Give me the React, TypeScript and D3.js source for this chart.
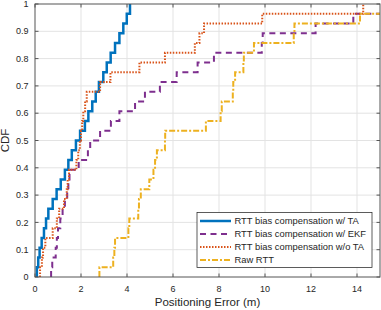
import React, { useEffect, useRef } from 'react';
import * as d3 from 'd3';

const seriesNames = [
  'RTT bias compensation w/ TA',
  'RTT bias compensation w/ EKF',
  'RTT bias compensation w/o TA',
  'Raw RTT',
];

// positioning error samples (m) for each method
const errWithTA = [0.08, 0.14, 0.2, 0.29, 0.39, 0.48, 0.58, 0.77, 0.94, 1.12, 1.3, 1.45, 1.6, 1.78,
  1.96, 2.17, 2.32, 2.49, 2.64, 2.78, 2.97, 3.12, 3.29, 3.48, 3.67, 3.84, 3.99, 4.13];
const errEKF = [0.7, 0.75, 0.9, 0.95, 1.0, 1.1, 1.2, 1.3, 1.4, 1.45, 1.5, 1.9, 2.3, 2.4,
  2.83, 3.3, 3.67, 4.35, 4.78, 5.43, 6.16, 7.07, 7.78, 9.86, 9.9, 12.2, 13.84, 16];
const errWithoutTA = [0.22, 0.3, 0.35, 0.45, 0.77, 0.95, 1.05, 1.26, 1.38, 1.42, 1.48, 1.8, 1.88, 1.95,
  2.0, 2.05, 2.1, 2.18, 2.25, 2.83, 3.28, 4.54, 5.65, 6.95, 7.15, 7.35, 9.88, 14.27];
const errRaw = [2.8, 3.4, 3.45, 3.48, 4.06, 4.1, 4.49, 4.52, 4.6, 4.97, 5.15, 5.22, 5.3, 5.65,
  5.66, 7.43, 8.07, 8.12, 8.6, 8.62, 8.7, 9.06, 9.08, 9.52, 11.25, 11.28, 14.13, 16];

const xTicks = [0, 2, 4, 6, 8, 10, 12, 14];
const yTicks = [0, 0.1, 0.2, 0.3, 0.4, 0.5, 0.6, 0.7, 0.8, 0.9, 1];

const styles = [
  { color: '#0072BD', width: 2.5, dash: null },
  { color: '#7E2F8E', width: 2, dash: '6,4.5' },
  { color: '#D95319', width: 2, dash: '1.5,1.5' },
  { color: '#EDB120', width: 2, dash: '6,2,2,2' },
];

export default function App() {
  const svgRef = useRef<SVGSVGElement>(null);

  useEffect(() => {
    document.body.style.margin = '0';
    if (!svgRef.current) return;
    const svg = d3.select(svgRef.current);
    svg.selectAll('*').remove();

    const width = 381;
    const height = 310;
    const left = 35, right = 380, top = 4, bottom = 277;
    const font = 'Liberation Sans, Arial, Helvetica, sans-serif';
    const axisColor = '#555';
    const textColor = '#262626';

    const x = d3.scaleLinear().domain([0, 15]).range([left, right]);
    const y = d3.scaleLinear().domain([0, 1]).range([bottom, top]);

    svg.attr('width', width).attr('height', height);
    svg.append('rect').attr('width', width).attr('height', height).attr('fill', 'white');

    // grid
    const grid = svg.append('g');
    xTicks.forEach(t => {
      if (t === 0) return;
      grid.append('line')
        .attr('x1', x(t)).attr('x2', x(t)).attr('y1', top).attr('y2', bottom)
        .attr('stroke', '#e3e3e3').attr('stroke-width', 1);
    });
    yTicks.forEach(t => {
      if (t === 0 || t === 1) return;
      grid.append('line')
        .attr('x1', left).attr('x2', right).attr('y1', y(t)).attr('y2', y(t))
        .attr('stroke', '#e3e3e3').attr('stroke-width', 1);
    });

    svg.append('clipPath').attr('id', 'plotclip')
      .append('rect').attr('x', left).attr('y', top)
      .attr('width', right - left).attr('height', bottom - top);

    const allSeries = [errWithTA, errEKF, errWithoutTA, errRaw];

    const line = d3.line<[number, number]>()
      .x(d => x(d[0]))
      .y(d => y(d[1]))
      .curve(d3.curveStepAfter);

    const plot = svg.append('g').attr('clip-path', 'url(#plotclip)');
    allSeries.forEach((samples, k) => {
      const sorted = samples.slice().sort(d3.ascending);
      const n = sorted.length;
      const pts: [number, number][] = [[sorted[0], 0], ...sorted.map((v, i) => [v, (i + 1) / n] as [number, number])];
      const st = styles[k];
      const p = plot.append('path')
        .attr('d', line(pts))
        .attr('fill', 'none')
        .attr('stroke', st.color)
        .attr('stroke-width', st.width);
      if (st.dash) p.attr('stroke-dasharray', st.dash);
    });

    // box + ticks
    const axes = svg.append('g');
    axes.append('rect')
      .attr('x', left).attr('y', top).attr('width', right - left).attr('height', bottom - top)
      .attr('fill', 'none').attr('stroke', axisColor).attr('stroke-width', 1);

    const tickLen = 3.5;
    xTicks.forEach(t => {
      axes.append('line').attr('x1', x(t)).attr('x2', x(t)).attr('y1', bottom).attr('y2', bottom - tickLen)
        .attr('stroke', axisColor);
      axes.append('line').attr('x1', x(t)).attr('x2', x(t)).attr('y1', top).attr('y2', top + tickLen)
        .attr('stroke', axisColor);
      axes.append('text')
        .attr('x', x(t)).attr('y', bottom + 14.5)
        .attr('text-anchor', 'middle')
        .attr('font-family', font).attr('font-size', 9).attr('fill', textColor)
        .text(String(t));
    });
    yTicks.forEach(t => {
      axes.append('line').attr('x1', left).attr('x2', left + tickLen).attr('y1', y(t)).attr('y2', y(t))
        .attr('stroke', axisColor);
      axes.append('line').attr('x1', right).attr('x2', right - tickLen).attr('y1', y(t)).attr('y2', y(t))
        .attr('stroke', axisColor);
      axes.append('text')
        .attr('x', left - 6.5).attr('y', y(t)).attr('dy', '0.35em')
        .attr('text-anchor', 'end')
        .attr('font-family', font).attr('font-size', 9).attr('fill', textColor)
        .text(String(t));
    });

    svg.append('text')
      .attr('x', (left + right) / 2).attr('y', 306)
      .attr('text-anchor', 'middle')
      .attr('font-family', font).attr('font-size', 11.5).attr('fill', textColor)
      .text('Positioning Error (m)');

    svg.append('text')
      .attr('transform', `translate(8.5, ${(top + bottom) / 2}) rotate(-90)`)
      .attr('text-anchor', 'middle')
      .attr('font-family', font).attr('font-size', 11.5).attr('fill', textColor)
      .text('CDF');

    // legend
    const legend = svg.append('g');
    legend.append('rect')
      .attr('x', 197).attr('y', 212.5).attr('width', 175).attr('height', 55)
      .attr('fill', 'white').attr('stroke', textColor).attr('stroke-width', 0.75);
    seriesNames.forEach((name, i) => {
      const ly = 221 + i * 13;
      const st = styles[i];
      const l = legend.append('line')
        .attr('x1', 200).attr('x2', 231).attr('y1', ly).attr('y2', ly)
        .attr('stroke', st.color).attr('stroke-width', st.width);
      if (st.dash) l.attr('stroke-dasharray', st.dash);
      legend.append('text')
        .attr('x', 234.5).attr('y', ly).attr('dy', '0.35em')
        .attr('font-family', font).attr('font-size', 9.4).attr('fill', textColor)
        .text(name);
    });
  }, []);

  return <svg ref={svgRef} width={381} height={310} style={{ display: 'block' }} />;
}
